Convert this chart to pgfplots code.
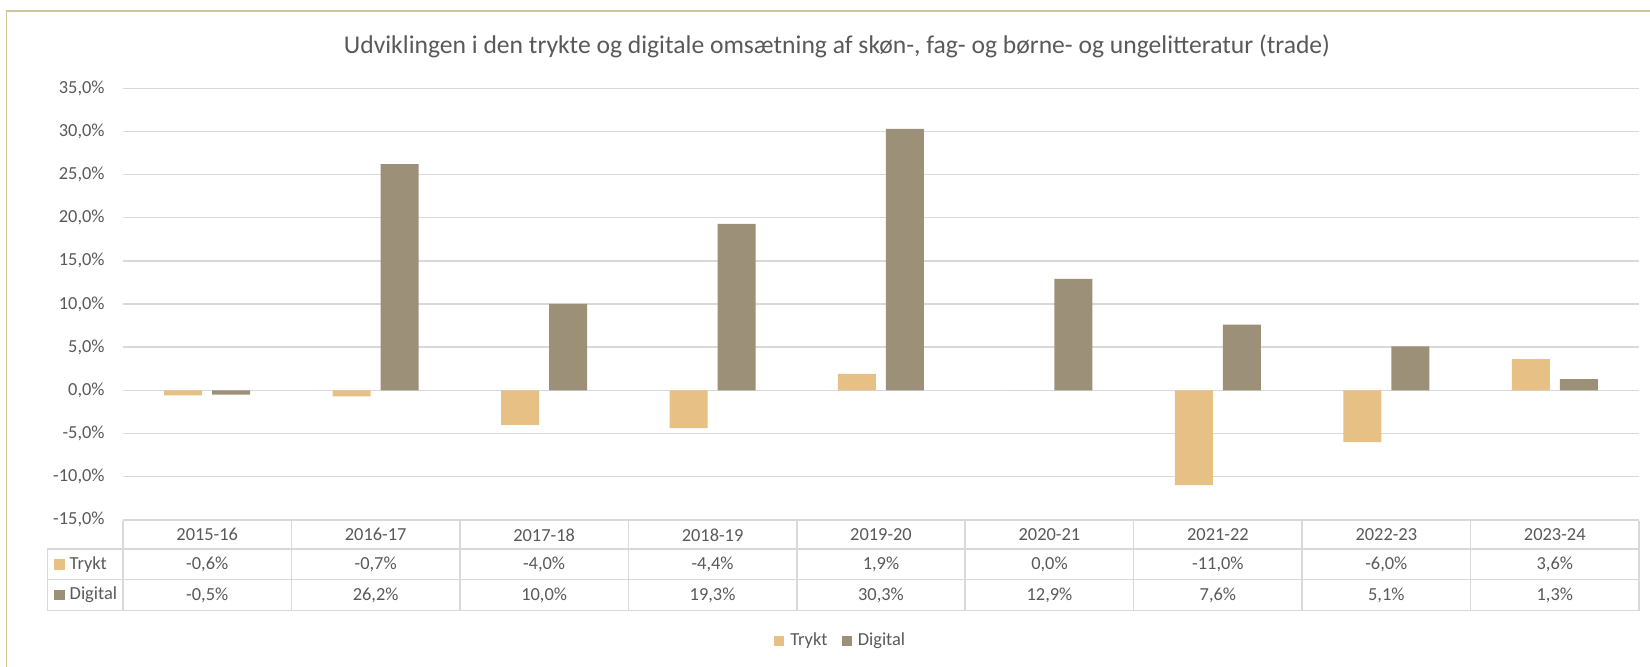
\documentclass[border=0pt]{standalone}
\usepackage{pgfplots}
\pgfplotsset{compat=1.18}
\usepackage{fontspec}
\setmainfont{Carlito}
\definecolor{trykt}{HTML}{E6C084}
\definecolor{digital}{HTML}{9D9079}
\definecolor{gridc}{HTML}{D9D9D9}
\definecolor{txt}{HTML}{595959}
\definecolor{bordc}{HTML}{CFC59B}
\newcommand{\tf}{\fontsize{9.2}{11}\selectfont\color{txt}}
\begin{document}
\begin{tikzpicture}
\path[use as bounding box] (0,0) rectangle (825pt,-333.5pt);
\draw[bordc, line width=0.8pt] (3.2pt,-333.5pt) -- (3.2pt,-5.4pt) -- (825pt,-5.4pt);
\node[anchor=base, inner sep=0pt, font=\fontsize{12.8}{15}\selectfont, text=txt] at (418.5pt,-26.8pt)
  {Udviklingen i den trykte og digitale omsætning af skøn-, fag- og børne- og ungelitteratur (trade)};
\begin{axis}[
  at={(61.5pt,-44.15pt)}, anchor=north west,
  width=758pt, height=215.7pt, scale only axis,
  xmin=-0.5, xmax=8.5, ymin=-15, ymax=35,
  xtick=\empty,
  ytick={-15,-10,...,35},
  ymajorgrids, grid style={gridc, line width=0.75pt},
  axis line style={draw=none},
  ytick style={draw=none},
  yticklabel={\pgfmathprintnumber[fixed,fixed zerofill,precision=1,use comma,assume math mode=true]{\tick}\%},
  yticklabel style={font=\tf, inner sep=0pt, xshift=-9pt},
  clip=false,
]
\addplot[ybar, bar width=19pt, bar shift=-12pt, fill=trykt, draw=none]
  coordinates {(0,-0.6) (1,-0.7) (2,-4.0) (3,-4.4) (4,1.9) (5,0.0) (6,-11.0) (7,-6.0) (8,3.6)};
\addplot[ybar, bar width=19pt, bar shift=12pt, fill=digital, draw=none]
  coordinates {(0,-0.5) (1,26.2) (2,10.0) (3,19.3) (4,30.3) (5,12.9) (6,7.6) (7,5.1) (8,1.3)};
\end{axis}
% data table
\begin{scope}[gridc, line width=0.75pt]
\draw (61.5pt,-260.35pt) -- (819.5pt,-260.35pt);
\draw (23.65pt,-274.5pt) -- (819.5pt,-274.5pt);
\draw (23.65pt,-289.65pt) -- (819.5pt,-289.65pt);
\draw (23.65pt,-305.35pt) -- (819.5pt,-305.35pt);
\draw (23.65pt,-274.5pt) -- (23.65pt,-305.35pt);
\foreach \i in {0,...,9} {\draw ({61.5pt+84.222pt*\i},-260.35pt) -- ({61.5pt+84.222pt*\i},-305.35pt);}
\end{scope}
\foreach \lab [count=\i from 0] in {2015-16,2016-17,2017-18,2018-19,2019-20,2020-21,2021-22,2022-23,2023-24}
  {\node[font=\tf, inner sep=0pt] at ({61.5pt+84.222pt*(\i+0.5)},-267.4pt) {\lab};}
\foreach \v [count=\i from 0] in {{-0,6\%},{-0,7\%},{-4,0\%},{-4,4\%},{1,9\%},{0,0\%},{-11,0\%},{-6,0\%},{3,6\%}}
  {\node[font=\tf, inner sep=0pt] at ({61.5pt+84.222pt*(\i+0.5)},-282.1pt) {\v};}
\foreach \v [count=\i from 0] in {{-0,5\%},{26,2\%},{10,0\%},{19,3\%},{30,3\%},{12,9\%},{7,6\%},{5,1\%},{1,3\%}}
  {\node[font=\tf, inner sep=0pt] at ({61.5pt+84.222pt*(\i+0.5)},-297.5pt) {\v};}
\fill[trykt] (27.2pt,-279.4pt) rectangle (32.6pt,-284.8pt);
\node[font=\tf, inner sep=0pt, anchor=west] at (34.65pt,-282.1pt) {Trykt};
\fill[digital] (27.2pt,-294.8pt) rectangle (32.6pt,-300.2pt);
\node[font=\tf, inner sep=0pt, anchor=west] at (34.65pt,-297.5pt) {Digital};
% legend
\fill[trykt] (387.2pt,-318pt) rectangle (392.2pt,-323pt);
\node[font=\tf, inner sep=0pt, anchor=west] at (395pt,-320.5pt) {Trykt};
\fill[digital] (421.2pt,-318pt) rectangle (426.2pt,-323pt);
\node[font=\tf, inner sep=0pt, anchor=west] at (428.7pt,-320.5pt) {Digital};
\end{tikzpicture}
\end{document}
